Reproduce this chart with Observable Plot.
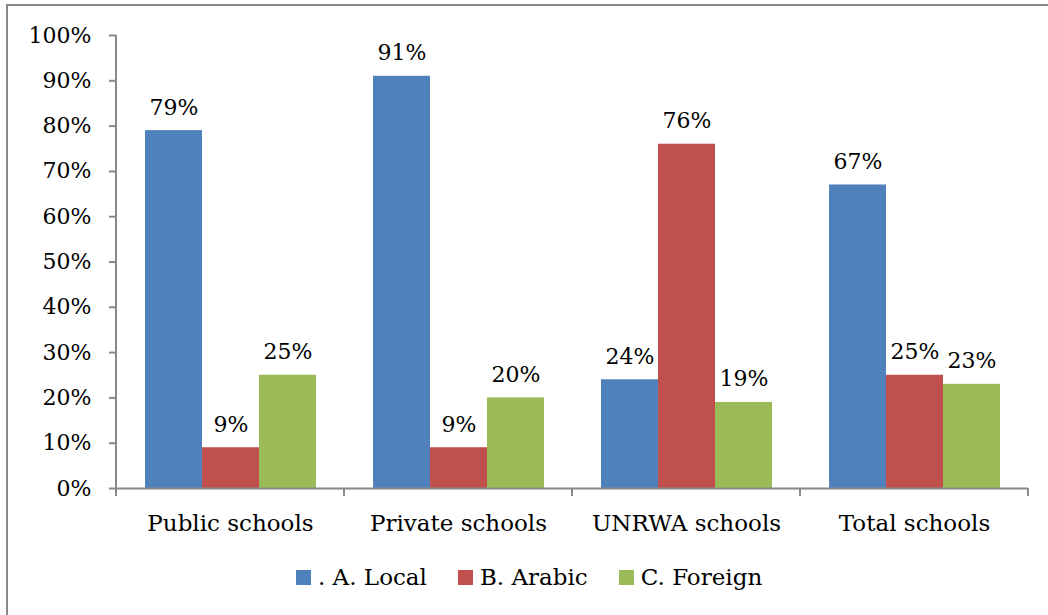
<!DOCTYPE html>
<html>
<head>
<meta charset="utf-8">
<script src="https://cdn.jsdelivr.net/npm/d3@7"></script>
<script src="https://cdn.jsdelivr.net/npm/@observablehq/plot@0.6"></script>
<style>
  html, body { margin: 0; padding: 0; background: #fff; overflow: hidden; }
  body { width: 1048px; height: 615px; position: relative; font-family: "DejaVu Serif", serif; }
  #frame { position: absolute; left: 6px; top: 4px; width: 1100px; height: 700px;
           border: 2px solid #898989; box-sizing: border-box; }
  #chart { position: absolute; left: 0; top: 0; }
  #legend { position: absolute; left: 296px; top: 564px; display: flex; align-items: center;
            font-size: 23px; color: #000; white-space: nowrap; }
  .item { display: flex; align-items: center; margin-right: 31px; }
  .swatch { width: 15px; height: 15px; margin-right: 7px; }
</style>
</head>
<body>
<div id="frame"></div>
<div id="chart"></div>
<div id="legend"></div>
<script>
// School categories and the three series (percent of schools)
const categories = ["Public schools", "Private schools", "UNRWA schools", "Total schools"];
const seriesNames = [". A. Local", "B. Arabic", "C. Foreign"];
const local   = [79, 91, 24, 67];
const arabic  = [9, 9, 76, 25];
const foreign = [25, 20, 19, 23];
const seriesColors = ["#4F81BD", "#C0504D", "#9BBB59"];
const yTicks = [0, 10, 20, 30, 40, 50, 60, 70, 80, 90, 100];

const seriesValues = [local, arabic, foreign];
const rows = categories.flatMap((category, i) =>
  seriesNames.map((series, j) => ({category, series, value: seriesValues[j][i]}))
);

const FONT = "DejaVu Serif";
const SIZE = 22;
const LABEL_SIZE = 23;
const AXIS_GRAY = "#898989";

const chart = Plot.plot({
  width: 1048,
  height: 550,
  marginTop: 35,
  marginLeft: 115,
  marginRight: 20,
  marginBottom: 62,
  style: {fontFamily: FONT, fontSize: SIZE + "px", color: "#000", background: "transparent"},
  fx: {domain: categories, padding: 0, label: null},
  x: {domain: seriesNames, paddingInner: 0, paddingOuter: 0.5, axis: null},
  y: {domain: [0, 100], label: null},
  color: {domain: seriesNames, range: seriesColors},
  marks: [
    Plot.barY(rows, {fx: "category", x: "series", y: "value", fill: "series"}),
    Plot.text(rows, {
      fx: "category", x: "series", y: "value",
      text: d => d.value + "%",
      lineAnchor: "bottom", dy: -16,
      fontSize: SIZE, fill: "#000"
    }),
    Plot.ruleY([0], {stroke: AXIS_GRAY, strokeWidth: 2}),
    Plot.axisY({
      ticks: yTicks, tickSize: 7, tickPadding: 18,
      tickFormat: d => d + "%", stroke: AXIS_GRAY, strokeWidth: 2,
      fontSize: SIZE, label: null
    }),
    Plot.axisFx({anchor: "bottom", tickSize: 0, tickPadding: 26, fontSize: LABEL_SIZE, label: null})
  ]
});

// Axis lines: vertical y-axis line and category boundary ticks below the baseline
const fx = chart.scale("fx");
const y = chart.scale("y");
const y0 = y.apply(0);
const y100 = y.apply(100);
const edges = categories.map(c => fx.apply(c));
edges.push(fx.apply(categories[categories.length - 1]) + fx.bandwidth);
const svg = d3.select(chart);
const deco = svg.append("g").attr("stroke", AXIS_GRAY).attr("stroke-width", 2);
deco.append("line").attr("x1", edges[0]).attr("x2", edges[0]).attr("y1", y100).attr("y2", y0);
deco.selectAll("line.edge").data(edges).join("line")
  .attr("class", "edge")
  .attr("x1", d => d).attr("x2", d => d)
  .attr("y1", y0).attr("y2", y0 + 8);

document.getElementById("chart").appendChild(chart);

// Legend
const legend = d3.select("#legend");
seriesNames.forEach((name, i) => {
  const item = legend.append("div").attr("class", "item");
  item.append("div").attr("class", "swatch").style("background", seriesColors[i]);
  item.append("span").text(name);
});
</script>
</body>
</html>
